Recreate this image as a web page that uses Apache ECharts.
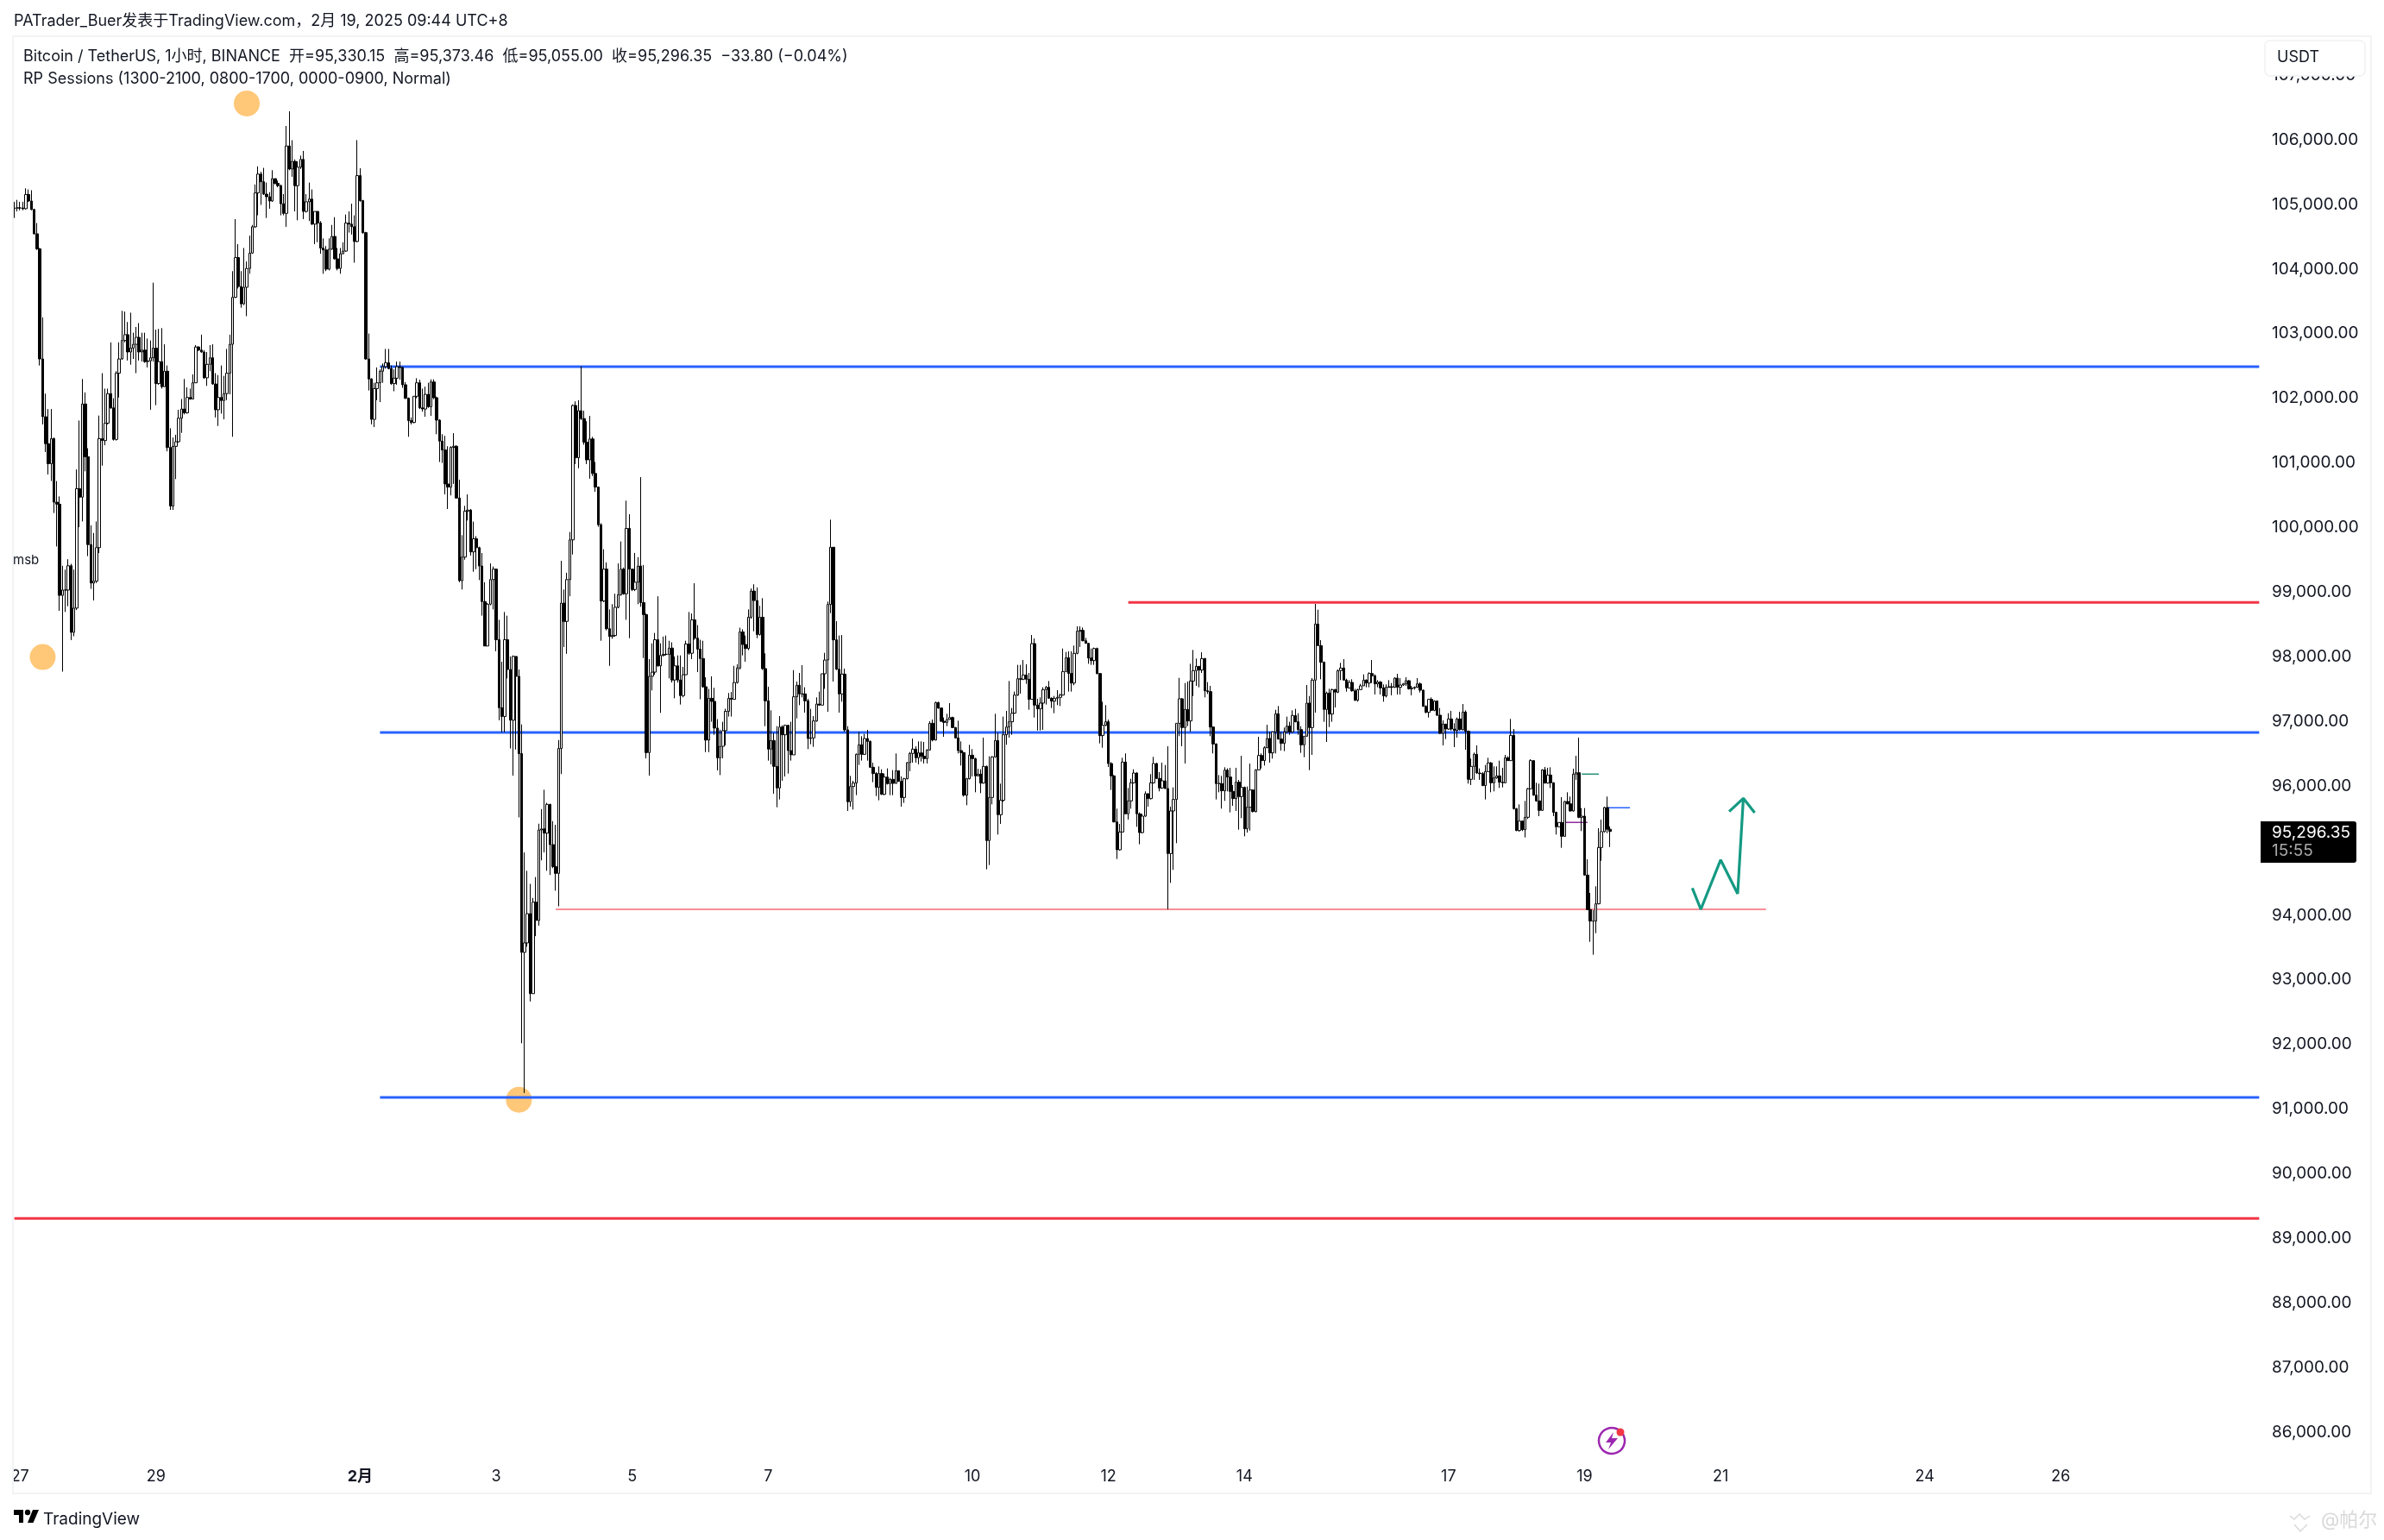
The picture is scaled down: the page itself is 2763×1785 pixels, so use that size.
<!DOCTYPE html>
<html><head><meta charset="utf-8">
<style>html,body{margin:0;padding:0;background:#fff}#c{width:2763px;height:1785px}</style>
<script src="https://cdn.jsdelivr.net/npm/echarts@6/dist/echarts.min.js"></script>
</head><body><div id="c"></div>
<script>
const firstOpen = 104933;
const closes = [
104945,104945,104945,104933,105153,105052,104921,104545,104313,102608,
101714,101297,100987,101375,100391,100361,98949,99032,99032,99408,
98377,98752,100600,100469,101911,101095,99736,99140,99169,99688,
101375,101345,101613,102072,101851,101363,102388,102608,102894,102984,
102716,102775,102835,102942,102716,102745,102567,102579,102626,102775,
102227,102567,102179,102418,101238,100332,101255,101327,101691,101833,
101774,102012,101988,102239,102793,102745,102716,102316,102525,102626,
102221,101822,102012,101965,102072,102388,102835,103562,104176,103729,
103461,103717,104009,104247,104653,105177,105469,105350,105159,105118,
105052,105398,105326,105290,105010,104861,105904,105547,105666,105290,
105576,105696,104891,105040,105082,104694,104891,104712,104325,104295,
103997,104307,104504,104158,104009,104235,104277,104712,104694,104653,
104426,105445,105058,104563,102608,102298,101673,102149,102239,102418,
102489,102549,102459,102227,102310,102489,102477,102209,102000,101655,
101625,102030,102239,101851,101833,102060,101869,
102252,102009,101661,101337,101200,100674,100625,101240,101257,100456,
99177,99541,100253,100269,99622,99825,99687,99404,98854,98166,
98813,99194,99355,98263,97211,97074,98263,97802,97017,98004,
97697,96500,93425,93571,94024,92786,94202,93919,95319,95335,
95270,95715,95092,94752,94647,96580,98829,98546,99194,99808,
101888,101079,101807,101685,101321,101046,101370,100836,100625,100043,
98862,99355,98433,98312,98328,98765,98959,99355,98975,99986,
99355,99040,99153,99404,98838,98652,96516,97697,97761,98263,
97859,98020,98037,98037,98134,97640,97859,97640,97398,97721,
98198,98053,98571,98287,98117,97972,97535,96710,97357,97309,
96896,96435,96613,96856,97155,97357,97341,97600,97826,98384,
98190,98126,98611,99016,98870,98344,98611,
97816,97317,96570,96703,96303,95969,96912,96792,96939,96548,
96481,97380,97558,97424,97424,97317,96734,96743,97006,97268,
97251,97736,97949,98808,99694,98261,97807,97424,97731,96868,
95755,95991,96045,96490,96637,96490,96734,96690,96289,96192,
95978,96192,95871,96138,96036,96102,96040,96236,96071,95822,
96111,96361,96503,96570,96436,96512,96459,96423,96557,96970,
96712,97291,97206,97001,96984,97028,97059,96904,96743,96548,
96516,95858,96111,96476,96423,96156,96183,96045,96303,95155,
95822,96450,96703,95555,95778,96792,96912,96993,97126,97406,
97660,97651,97718,97651,97340,98203,97251,97193,97282,97491,
97527,97357,97313,97357,97371,97406,97771,97985,97740,97593,
98052,98394,98408,98247,98207,97980,97940,98127,97740,96779,
96939,96993,96347,96156,95444,95012,95288,96370,95569,95769,
96049,96200,95569,95279,95533,95880,95804,96049,96347,96116,
95969,96080,95960,94954,95613,95791,96970,97349,96904,97184,
97006,
97624,97785,97851,97794,97972,97473,97460,96912,96650,96036,
96036,95925,96245,96138,95916,95804,96058,95836,95978,95337,
95671,95938,95604,96249,96472,96392,96592,96734,96512,96837,
97117,96726,96659,96837,96926,96837,97090,96993,96872,96636,
96770,97282,96904,97638,98506,98172,97914,97184,97437,97113,
97491,97451,97785,97825,97638,97518,97602,97473,97326,97491,
97549,97638,97593,97740,97705,97580,97607,97518,97393,97527,
97536,97527,97669,97527,97562,97580,97629,97504,97518,97527,
97580,97482,97233,97139,97340,97170,97313,97095,96814,96957,
96881,97037,96881,96859,97037,96872,97144,96846,96103,96303,
96490,96200,96191,96005,96223,96356,96049,96125,96156,96058,
96049,96436,96392,96783,95649,95310,95457,95324,95515,95956,
96392,95858,95769,95622,96249,96045,96169,96049,95591,95368,
95435,95221,95760,95724,95613,96183,96205,95515,95533,94621,
94087,93909,93909,94176,95048,95293,95666,95330,95296];
const highs = [
105040,105070,105040,105040,105249,105231,105219,104933,104712,104325,
103252,102072,101833,101833,101392,100719,100481,99408,99348,99509,
99438,99348,100898,101655,102298,102090,101226,100034,99914,100093,
101732,102388,102149,102149,102865,102000,102418,102865,103353,103341,
103180,103324,103014,103103,103163,103014,103014,102924,102894,103788,
103061,103073,103085,102835,102507,101536,101392,101434,101822,101988,
102298,102167,102149,102370,102823,102805,102984,102745,102716,102823,
102835,102388,102358,102507,102346,102763,102984,103967,104772,104384,
103967,104325,104116,104516,104682,105308,105588,105505,105565,105338,
105189,105529,105398,105368,105308,105159,106214,106441,105994,105696,
105666,105755,105827,105159,105338,105231,104891,104891,104742,104474,
104355,104474,104682,104802,104325,104325,104414,104843,104891,105010,
104831,105994,105559,105070,104575,103002,102310,102239,102477,102447,
102537,102763,102763,102507,102447,102567,102567,102489,102251,102012,
101703,102030,102310,102286,102149,102179,102239,
102292,102292,102025,101677,101443,101418,101257,101257,101459,101273,
100739,99881,100334,100512,100286,100091,99865,99703,99606,99153,
98830,99444,99396,99363,98571,97923,98692,98635,98004,98020,
98004,97802,96953,94971,94687,94485,94267,94590,95416,95642,
95941,95739,95723,95456,95399,96710,99485,99040,99299,99930,
101904,101952,101968,102494,101807,101645,101726,101402,101014,100634,
100067,99663,99460,98732,98813,98975,99444,99784,99380,100415,
100205,99363,99606,99541,100779,99420,98668,97964,98207,98368,
98935,98207,98312,98328,98247,98223,98004,98020,98020,97843,
98247,98692,98668,99137,98490,98263,98247,97681,97503,97697,
97519,97034,96871,96993,97195,97438,97454,97859,97883,98449,
98425,98328,98732,99056,99121,99072,98789,
98906,98052,97535,97171,96823,96926,97081,96939,96948,96948,
96993,97793,97616,97749,97869,97527,97349,97193,97081,97371,
97460,97736,98060,98853,100121,99694,98550,98328,98336,97816,
96926,96156,96080,96503,96837,96770,96806,96868,96703,96361,
96214,96303,96258,96192,96272,96125,96245,96503,96236,96147,
96125,96370,96525,96734,96614,96690,96690,96681,96570,97001,
97028,97304,97304,97215,97059,97117,97282,97073,96912,97010,
96690,96525,96125,96637,96570,96436,96267,96258,96748,96316,
96459,96459,97117,96823,96036,97073,97162,97624,97206,97460,
97874,97874,97949,97883,97749,98336,98283,97349,97371,97527,
97549,97624,97371,97393,97482,97429,98127,98074,98083,98083,
98172,98470,98470,98452,98292,98216,98127,98141,98141,97749,
97304,97251,97028,96370,96169,95649,95413,96436,96503,95969,
96111,96258,96214,95591,95569,95916,95889,96183,96450,96361,
96214,96361,96325,96614,95680,95978,96970,97673,97358,97593,
97616,
97891,98105,97972,97838,98069,97980,97607,97549,96921,96659,
96169,96156,96289,96272,96281,96014,96281,96094,96467,95991,
95991,96347,95947,96258,96761,96503,96614,96948,96837,96837,
97179,97237,96837,96904,97073,96993,97170,97193,97126,96926,
96770,97562,97393,97669,98817,98728,98256,97927,97460,97504,
97504,97504,97802,97905,97963,97660,97638,97651,97504,97504,
97580,97727,97651,97758,97949,97727,97638,97624,97571,97571,
97638,97593,97682,97736,97669,97593,97682,97638,97549,97540,
97669,97602,97491,97251,97349,97371,97326,97326,97206,97015,
96957,97126,97162,96970,97059,97148,97268,97170,96859,96423,
96516,96628,96272,96214,96325,96436,96370,96303,96303,96392,
96281,96481,96459,97037,96881,95658,95715,95457,95769,95969,
96414,96401,96049,96036,96258,96294,96281,96289,96058,95604,
95435,95827,95769,95902,95836,96267,96467,96748,95658,95658,
94865,94345,94078,94447,95346,95480,95680,95836,95373];
const lows = [
104790,104891,104909,104909,104921,105040,104909,104533,104295,102507,
101595,101166,100820,100719,100224,99706,98710,97769,98693,98782,
98258,98317,98722,100004,100093,100868,99557,99050,98871,99140,
99604,100957,101273,101595,101833,101345,101345,102012,102596,102865,
102584,102519,102608,102388,102584,102567,102549,102477,101822,102567,
101893,102209,102149,102179,101178,100272,100272,100749,101315,101464,
101750,101762,101977,101988,102239,102728,102704,102298,102191,102418,
102209,101702,101571,101762,101673,101971,102060,101404,103550,103699,
103401,103443,103270,103926,104235,104635,104831,104992,105147,104790,
104933,105040,105308,105266,104831,104831,104653,105529,105427,104891,
104754,105547,104772,104873,104742,104682,104384,104414,104235,103926,
103967,103979,104295,104146,103979,103926,104235,104265,104563,104533,
104098,104414,105040,104545,102596,102120,101595,101553,101971,101941,
102239,102459,102447,102209,102108,102209,102286,102161,101988,101404,
101595,101613,102000,101833,101792,101714,101851,
101726,101985,101443,101014,100998,100512,100286,100496,100674,100447,
99153,99040,99501,100108,99566,99315,99355,99185,98635,98166,
98166,98797,98732,98085,97017,96831,96831,97665,96580,96160,
96564,95513,92018,91249,93514,92665,92786,93676,93838,94849,
94971,94687,94623,94728,94380,94137,96184,98150,98045,98935,
99582,100981,100917,101661,101281,100981,100755,100795,100553,100011,
98247,98846,98409,97859,98279,98312,98749,98943,98959,98571,
98287,99016,99016,98813,98773,97980,96427,96160,97478,97721,
97843,97131,98004,98021,97665,97600,97357,97600,97260,97373,
97721,98029,97964,98263,97762,97341,97519,96524,96524,96993,
96791,96241,96168,96427,96629,97074,97074,97341,97584,97802,
98020,97923,98101,98587,98393,98287,98328,
97794,96926,96392,96334,95880,95671,95791,96080,96147,96192,
96392,96481,97046,97251,97371,97135,96570,96645,96605,96993,
97242,97251,97504,97148,98675,97616,97794,97135,97304,96837,
95613,95680,95635,95858,96325,96392,96481,96392,96281,96058,
95844,95778,95862,95858,96022,95858,95858,96036,96067,95680,
95738,96102,96227,96361,96361,96334,96378,96347,96347,96548,
96690,96703,97193,96993,96761,96926,97028,96895,96734,96503,
96316,95835,95702,96102,96147,95902,96147,95889,96036,94710,
94776,95715,96436,95248,95413,95755,96637,96748,96792,97117,
97393,97429,97638,97580,97179,97340,97059,96859,96859,96868,
97260,97349,97206,97126,97251,97237,97402,97758,97460,97460,
97558,98038,98150,98239,98203,97891,97874,97874,97727,96659,
96592,96926,96294,95938,95435,94870,94999,95279,95560,95480,
95649,96036,95368,95097,95266,95524,95680,95791,96036,96111,
95916,95956,95956,94090,94500,94701,95115,96770,96614,96347,
96926,
96837,97393,97549,97527,97749,97371,97424,96770,96503,95791,
95902,95649,95769,95916,95591,95693,95613,95324,95502,95221,
95279,95310,95591,95591,96245,96272,96316,96583,96361,96423,
96503,96717,96548,96539,96814,96792,96823,96984,96792,96512,
96445,96761,96245,96481,97135,98163,97651,96993,96681,96912,
96993,97215,97437,97638,97638,97460,97504,97460,97317,97304,
97491,97549,97527,97527,97593,97415,97527,97415,97304,97371,
97518,97402,97518,97415,97415,97549,97549,97491,97402,97491,
97518,97446,97224,97126,97059,97162,97157,97081,96806,96628,
96726,96868,96859,96601,96748,96859,96859,96561,96036,96014,
96094,96191,96094,96000,95791,96214,95902,95916,96111,95969,
95978,96045,96387,96392,95635,95302,95293,95302,95204,95488,
95947,95849,95755,95533,95613,96036,96036,95969,95533,95248,
95368,95043,95212,95715,95604,95604,96094,95502,95302,94612,
94078,93588,93388,93722,94167,94843,95279,95270,95055];

const categoryCount = 793;
const tickLabels = ['27','29','2月','3','5','7','10','12','14','17','19','21','24','26'];
const tickIndexes = [2,50,122,170,218,266,338,386,434,506,554,602,674,722];

const levelsBlue = [[129,102490],[129,96828],[129,91180]];
const levelRedUpper = [393,98840];
const levelRedLower = [0,89307];
const supportStart = 191, supportEnd = 618, supportPrice = 94090;
const orangeMarks = [[82,106561],[10,97995],[178,91144]];
const zigzag = [[592,94420],[595,94091],[602,94856],[608,94331],[610,95809]];
const arrowHead = [[605,95604],[610,95809],[614,95586]];
const shortLines = [
  {from:553,to:559,price:96183,color:'#22917a'},
  {from:547,to:555,price:95435,color:'#8e2aa0'},
  {from:562,to:570,price:95662,color:'#2962ff'}];
const yMin = 85000, yMax = 108000, yStep = 1000, lastEnd = 792;

const categories = Array.from({length:categoryCount},()=> '');
tickIndexes.forEach((ix,k)=>categories[ix]=tickLabels[k]);
const candleData = closes.map((c,i)=>[i===0?firstOpen:closes[i-1],c,lows[i],highs[i]]);

const font = 'Inter, "Noto Sans CJK SC", sans-serif';
const ink = '#131722';
function seg(pts,color,width,z){return {type:'line',data:pts,showSymbol:false,symbol:'none',silent:true,z:z||2,
  lineStyle:{color:color,width:width},itemStyle:{color:color},animation:false,clip:true};}

const series = [
 {type:'scatter',data:orangeMarks,symbolSize:30,itemStyle:{color:'#ffc778',opacity:1},z:1,silent:true},
 ...levelsBlue.map(l=>seg([[l[0],l[1]],[lastEnd,l[1]]],'#2962ff',3)),
 seg([[levelRedUpper[0],levelRedUpper[1]],[lastEnd,levelRedUpper[1]]],'#f23645',3),
 seg([[levelRedLower[0],levelRedLower[1]],[lastEnd,levelRedLower[1]]],'#f23645',3),
 seg([[supportStart,supportPrice],[supportEnd,supportPrice]],'rgba(242,54,69,0.75)',1.6),
 ...shortLines.map(s=>seg([[s.from,s.price],[s.to,s.price]],s.color,1.5,2)),
 {type:'candlestick',data:candleData,barWidth:3,z:3,silent:true,large:false,
  itemStyle:{color:'#ffffff',color0:'#000000',borderColor:'#000000',borderColor0:'#000000',borderWidth:1}},
 seg(zigzag,'#149a83',3.2,5),
 seg(arrowHead,'#149a83',3.2,5)
];

const g = [
 {type:'rect',shape:{x:0,y:0,width:14,height:1785},style:{fill:'#fff'},z:20},
 {type:'rect',shape:{x:15,y:42,width:2733,height:1689},style:{fill:'none',stroke:'#f2f3f5',lineWidth:2},z:21},
 {type:'text',x:16,y:25,style:{text:'PATrader_Buer发表于TradingView.com，2月 19, 2025 09:44 UTC+8',font:'18px '+font,fill:ink,textVerticalAlign:'middle'},z:22},
 {type:'text',x:27,y:66,style:{text:'Bitcoin / TetherUS, 1小时, BINANCE  开=95,330.15  高=95,373.46  低=95,055.00  收=95,296.35  −33.80 (−0.04%)',font:'18px '+font,fill:ink,textVerticalAlign:'middle'},z:22},
 {type:'text',x:27,y:92,style:{text:'RP Sessions (1300-2100, 0800-1700, 0000-0900, Normal)',font:'18px '+font,fill:ink,textVerticalAlign:'middle'},z:22},
 {type:'text',x:15,y:649,style:{text:'msb',font:'15px '+font,fill:ink,textVerticalAlign:'middle'},z:22},
 {type:'rect',shape:{x:2625,y:47,width:116,height:41,r:6},style:{fill:'#fff',stroke:'#f0f1f3',lineWidth:1.5},z:22},
 {type:'text',x:2639,y:67,style:{text:'USDT',font:'18px '+font,fill:ink,textVerticalAlign:'middle'},z:23},
 {type:'rect',shape:{x:2620,y:952,width:111,height:48,r:[0,3,3,0]},style:{fill:'#000'},z:22},
 {type:'text',x:2633,y:965,style:{text:'95,296.35',font:'19px '+font,fill:'#fff',textVerticalAlign:'middle'},z:23},
 {type:'text',x:2633,y:986,style:{text:'15:55',font:'19px '+font,fill:'#a9a9a9',textVerticalAlign:'middle'},z:23},
 {type:'polygon',shape:{points:[[16,1750],[27,1750],[27,1765],[22,1765],[22,1756],[16,1756]]},style:{fill:'#000'},z:22},
 {type:'polygon',shape:{points:[[32,1765],[38,1750],[45,1750],[38.5,1765]]},style:{fill:'#000'},z:22},
 {type:'circle',shape:{cx:32,cy:1753,r:3.2},style:{fill:'#000'},z:22},
 {type:'text',x:50,y:1761,style:{text:'TradingView',font:'19px '+font,fill:ink,textVerticalAlign:'middle'},z:22},
 {type:'arc',shape:{cx:1868,cy:1670,r:15,startAngle:-1.2,endAngle:-0.55+Math.PI*2-0.2},style:{stroke:'#9c27b0',lineWidth:2.5,fill:'none'},z:22},
 {type:'polygon',shape:{points:[[1870,1660],[1861,1672],[1867,1672],[1864,1680],[1875,1667],[1868,1667]]},style:{fill:'#9c27b0'},z:22},
 {type:'circle',shape:{cx:1878,cy:1660,r:4.5},style:{fill:'#f23645'},z:23},
 {type:'text',x:2690,y:1762,style:{text:'@帕尔',font:'22px '+font,fill:'#d9d9d9',textVerticalAlign:'middle'},z:22},
 {type:'polyline',shape:{points:[[2654,1757],[2659,1761],[2665,1755],[2671,1761],[2677,1757]]},style:{stroke:'#d9d9d9',lineWidth:1.5,fill:'none'},z:22},
 {type:'polyline',shape:{points:[[2659,1767],[2666,1775],[2674,1767]]},style:{stroke:'#d9d9d9',lineWidth:1.5,fill:'none'},z:22}
];

const chart = echarts.init(document.getElementById('c'),null,{renderer:'canvas',width:2763,height:1785});
chart.setOption({
 animation:false,backgroundColor:'#ffffff',
 textStyle:{fontFamily:font},
 grid:{left:15,right:143,top:12.2,height:1722.7,containLabel:false},
 xAxis:{type:'category',data:categories,boundaryGap:true,
   axisLine:{show:false},axisTick:{show:false},splitLine:{show:false},
   axisLabel:{inside:true,margin:14,fontSize:18,color:ink,fontFamily:font,
     interval:(i,v)=>v!=='',
     formatter:v=>v==='2月'?'{b|2月}':v,
     rich:{b:{fontWeight:'bold',fontSize:18,color:ink,fontFamily:font}}}},
 yAxis:{type:'value',position:'right',min:yMin,max:yMax,interval:yStep,scale:true,
   axisLine:{show:false},axisTick:{show:false},splitLine:{show:false},
   axisLabel:{margin:13,align:'left',fontSize:19,padding:[3,0,0,0],color:ink,fontFamily:font,
     showMinLabel:true,showMaxLabel:true,
     formatter:v=>(v<86000||v>107000)?'':v.toLocaleString('en-US',{minimumFractionDigits:2,maximumFractionDigits:2})}},
 series:series,
 graphic:{elements:g}
});
</script></body></html>
